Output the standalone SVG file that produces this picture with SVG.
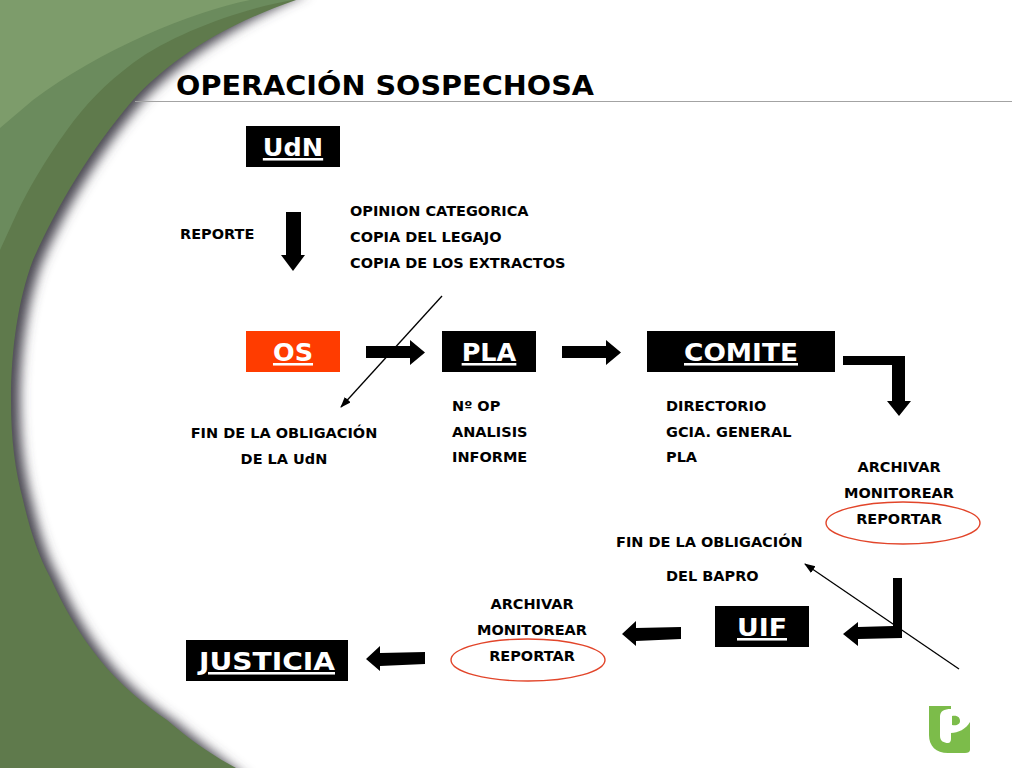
<svg xmlns="http://www.w3.org/2000/svg" width="1024" height="768" viewBox="0 0 1024 768">
<style>
text{font-family:"DejaVu Sans",Verdana,sans-serif;font-weight:700;fill:#000}
.s{font-size:14.5px}
.b{font-size:25.5px;fill:#fff;text-anchor:middle;text-decoration:underline}
.m{text-anchor:middle}
.box{fill:#000}
.arrow{fill:#000}
.thin{fill:none;stroke:#000;stroke-width:1.3;marker-end:url(#tip)}
.ring{fill:none;stroke:#e2452a;stroke-width:1.4}
</style>
<defs>
<marker id="tip" markerWidth="12" markerHeight="10" refX="10" refY="4" orient="auto" markerUnits="userSpaceOnUse"><path d="M0 0L11 4L0 8z" fill="#000"/></marker>
<filter id="blur" x="-20%" y="-20%" width="140%" height="140%"><feGaussianBlur stdDeviation="6"/></filter>
</defs>
<rect width="1024" height="768" fill="#fff"/>
<g id="background">
<path d="M300 -10C215 28 165 65 133 100C90 150 55 210 33 260C18 300 11 350 11 400C11 440 15 470 23 500C30 530 38 555 50 577C65 610 80 635 100 660C120 685 145 705 167 720C190 740 212 755 240 778L-20 778L-20 -10z" fill="#4c4a52" filter="url(#blur)" transform="translate(9 2)"/>
<path d="M296 0C215 28 165 65 133 100C90 150 55 210 33 260C18 300 11 350 11 400C11 440 15 470 23 500C30 530 38 555 50 577C65 610 80 635 100 660C120 685 145 705 167 720C190 740 212 755 236 768L0 768L0 0z" fill="#5f7a4c"/>
<path d="M293 0C245 8 175 32 133 63C105 84 85 105 67 130C45 160 28 190 17 213L0 250L0 0z" fill="#6b8b5d"/>
<path d="M250 0C190 12 100 50 33 100L0 128L0 0z" fill="#7d9c6b"/>
<rect x="135" y="101" width="877" height="1" fill="#a3a3a3"/>
</g>
<text x="176" y="95" font-size="26.5" textLength="418" lengthAdjust="spacingAndGlyphs">OPERACIÓN SOSPECHOSA</text>
<g id="connectors">
<path class="arrow" d="M286 212H301V255H305L293 271L281 255H286z"/>
<path class="arrow" d="M366 346H410V340L425 352.5L410 365V358H366z"/>
<path class="arrow" d="M562 346H606V340L621 352.5L606 365V358H562z"/>
<path class="arrow" d="M843 356H905V401H911L899 416L887 401H892V365H843z"/>
<path class="arrow" d="M893 578H902V638L858 639V646L843 634L858 622V627L893 626z"/>
<path class="arrow" d="M681 627V639L636 641V646L622 634L636 621V628z"/>
<path class="arrow" d="M425 652V664L380 666V671L366 659L380 646V653z"/>
<path class="thin" d="M442 296L341 407"/>
<path class="thin" d="M959 669L805 564"/>
</g>
<g id="udn"><rect class="box" x="246" y="126" width="94" height="41"/><text class="b" x="293" y="156">UdN</text></g>
<g id="os"><rect x="246" y="331" width="94" height="41" fill="#ff3c00"/><text class="b" x="293" y="361">OS</text></g>
<g id="pla"><rect class="box" x="442" y="331" width="94" height="41"/><text class="b" x="489" y="361">PLA</text></g>
<g id="comite"><rect class="box" x="647" y="331" width="188" height="41"/><text class="b" x="741" y="361" textLength="114" lengthAdjust="spacingAndGlyphs">COMITE</text></g>
<g id="uif"><rect class="box" x="715" y="606" width="94" height="41"/><text class="b" x="762" y="636" textLength="50" lengthAdjust="spacingAndGlyphs">UIF</text></g>
<g id="justicia"><rect class="box" x="186" y="640" width="162" height="41"/><text class="b" x="267" y="670" textLength="136" lengthAdjust="spacingAndGlyphs">JUSTICIA</text></g>
<g id="labels">
<text class="s" x="180" y="239">REPORTE</text>
<text class="s" x="350" y="216">OPINION CATEGORICA</text>
<text class="s" x="350" y="242">COPIA DEL LEGAJO</text>
<text class="s" x="350" y="268">COPIA DE LOS EXTRACTOS</text>
<text class="s m" x="284" y="438">FIN DE LA OBLIGACIÓN</text>
<text class="s m" x="284" y="464">DE LA UdN</text>
<text class="s" x="452" y="411">Nº OP</text>
<text class="s" x="452" y="437">ANALISIS</text>
<text class="s" x="452" y="462">INFORME</text>
<text class="s" x="666" y="411">DIRECTORIO</text>
<text class="s" x="666" y="437">GCIA. GENERAL</text>
<text class="s" x="666" y="462">PLA</text>
<text class="s m" x="899" y="472">ARCHIVAR</text>
<text class="s m" x="899" y="498">MONITOREAR</text>
<text class="s m" x="899" y="524">REPORTAR</text>
<text class="s" x="616" y="547">FIN DE LA OBLIGACIÓN</text>
<text class="s" x="666" y="581">DEL BAPRO</text>
<text class="s m" x="532" y="609">ARCHIVAR</text>
<text class="s m" x="532" y="635">MONITOREAR</text>
<text class="s m" x="532" y="661">REPORTAR</text>
</g>
<ellipse id="ring-top" class="ring" cx="903" cy="523" rx="77" ry="21"/>
<ellipse id="ring-bottom" class="ring" cx="528" cy="660" rx="77" ry="21"/>
<path id="logo" fill="#7cbc4a" fill-rule="evenodd" d="M929 706H951V709C944 709 940 711 940 717V736C940 741 944 743 948 743C950 743 951 741 951 739V733C958 733 966 729 970 722V750C970 752 968 753 965 753H948C936 753 929 746 929 735zM952 716C958 715 960 718 960 721C960 724 957 726 952 725z"/>
</svg>
